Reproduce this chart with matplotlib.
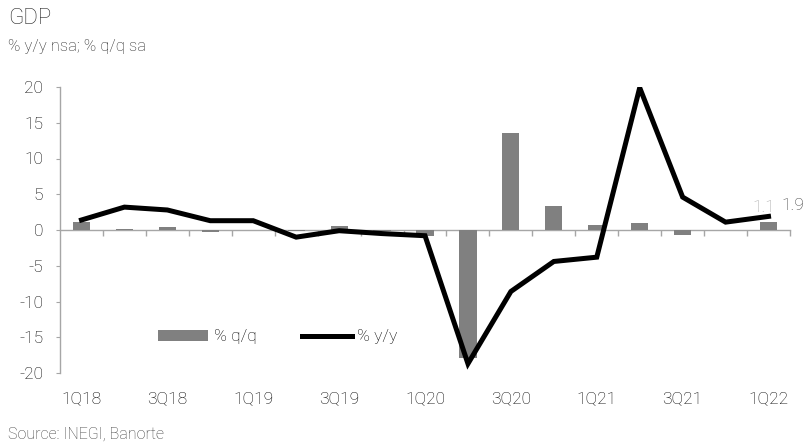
import matplotlib
matplotlib.use("Agg")
import matplotlib.pyplot as plt
import numpy as np
from matplotlib.patches import Patch
from matplotlib.lines import Line2D

plt.rcParams['font.family'] = ['Roboto', 'DejaVu Sans']
plt.rcParams['font.weight'] = 'light'

quarters = ["1Q18", "2Q18", "3Q18", "4Q18", "1Q19", "2Q19", "3Q19", "4Q19",
            "1Q20", "2Q20", "3Q20", "4Q20", "1Q21", "2Q21", "3Q21", "4Q21", "1Q22"]
qq = [1.1, 0.1, 0.4, -0.3, 0.0, -0.1, 0.5, -0.1,
      -0.8, -17.9, 13.5, 3.4, 0.7, 1.0, -0.7, 0.0, 1.1]
yy = [1.4, 3.2, 2.8, 1.3, 1.3, -1.0, -0.1, -0.5,
      -0.8, -18.7, -8.6, -4.4, -3.8, 19.9, 4.6, 1.1, 1.9]
label_quarters = ["1Q18", "3Q18", "1Q19", "3Q19", "1Q20", "3Q20", "1Q21", "3Q21", "1Q22"]
yticks = [20, 15, 10, 5, 0, -5, -10, -15, -20]

txt = '#262626'
axc = '#a6a6a6'
fs = 12.5

fig = plt.figure(figsize=(8.07, 4.47), dpi=100)
ax = fig.add_axes([60/807, 1-373/447, 730/807, (373-87)/447])

x = np.arange(len(quarters))
ax.bar(x, qq, width=0.4, color='#808080', zorder=2)
ax.plot(x, yy, color='black', lw=3.6, zorder=3, solid_joinstyle='miter')

ax.set_xlim(-0.5, len(quarters) - 0.5)
ax.set_ylim(-20, 20)
ax.set_yticks(yticks)
ax.set_yticklabels([str(v) for v in yticks])
ax.tick_params(axis='y', direction='out', length=3, width=0.8, color=axc,
               labelsize=fs, labelcolor='#000000', pad=9)

for s in ['top', 'right']:
    ax.spines[s].set_visible(False)
ax.spines['left'].set_color(axc)
ax.spines['left'].set_linewidth(1.0)
ax.spines['bottom'].set_position(('data', 0))
ax.spines['bottom'].set_color(axc)
ax.spines['bottom'].set_linewidth(1.0)
ax.spines['bottom'].set_zorder(1)
ax.set_xticks([])
ax.set_xticks(np.arange(-0.5, len(quarters) + 0.5, 1)[1:], minor=True)
ax.tick_params(axis='x', which='minor', direction='out', length=4, width=1.0, color=axc)

sec = ax.secondary_xaxis('bottom')
pos = [quarters.index(q) for q in label_quarters]
sec.set_xticks(pos)
sec.set_xticklabels(label_quarters)
sec.spines['bottom'].set_visible(False)
sec.tick_params(length=0, labelsize=fs, labelcolor='#000000', pad=14)

# data labels on last point
last = len(quarters) - 1
ax.annotate(f"{qq[last]:.1f}", (x[last], qq[last]), xytext=(5, 5), textcoords='offset points',
            ha='right', va='bottom', fontsize=fs, color='#a6a6a6')
ax.annotate(f"{yy[last]:.1f}", (x[last], yy[last]), xytext=(9, 8), textcoords='offset points',
            ha='left', va='center', fontsize=fs, color='#404040', annotation_clip=False)

handles = [Patch(facecolor='#808080', edgecolor='none'),
           Line2D([0], [0], color='black', lw=3.6)]
leg = ax.legend(handles, ['% q/q', '% y/y'], ncol=2, loc='center left',
                bbox_to_anchor=(0.113, 0.126), frameon=False, fontsize=fs,
                handlelength=2.9, handleheight=0.55, handletextpad=0.3, columnspacing=2.6)
for t in leg.get_texts():
    t.set_color('#000000')

fig.text(8/807, 1-18/447, "GDP", fontsize=16, color=txt, va='center', ha='left')
fig.text(8/807, 1-47/447, "% y/y nsa; % q/q sa", fontsize=12, color=txt, va='center', ha='left')
fig.text(8/807, 1-434/447, "Source: INEGI, Banorte", fontsize=11.5, color='#404040', va='center', ha='left')

fig.savefig("out.png", dpi=100)
